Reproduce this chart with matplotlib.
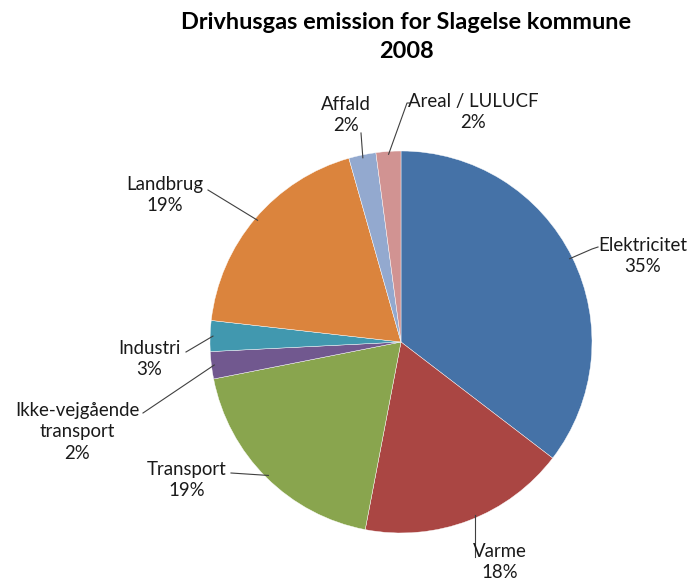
import numpy as np
import matplotlib
matplotlib.use("Agg")
import matplotlib.pyplot as plt

# ---- data ----
categories = ["Elektricitet", "Varme", "Transport", "Ikke-vejgående\ntransport",
              "Industri", "Landbrug", "Affald", "Areal / LULUCF"]
values = [35.4, 17.6, 18.9, 2.3, 2.6, 18.8, 2.3, 2.1]
colors = ["#4572A7", "#AA4643", "#89A54E", "#71588F",
          "#4198AF", "#DB843D", "#93A9CF", "#D19392"]
title = "Drivhusgas emission for Slagelse kommune\n2008"

# ---- layout (pixels in a 692x585 canvas) ----
W, H = 692, 585
cx, cy, R = 401, 342, 191
# label text centre (px) and leader-line start point (px) near the text
label_pos = [(643, 256), (500, 562), (187, 480), (77, 432),
             (149, 359), (165, 195), (346, 115), (473, 112)]
leader_start = [(598, 247), (475, 557), (231, 473), (143, 413),
                (186, 352), (208, 190), (361, 133), (410, 103)]
leader_elbow = [(592, 249), None, None, None, None, None, None, (407, 103)]

plt.rcParams['font.family'] = ['Lato', 'DejaVu Sans']
fig = plt.figure(figsize=(W / 100, H / 100), dpi=100)
ax = fig.add_axes([(cx - R) / W, (H - cy - R) / H, 2 * R / W, 2 * R / H])

wedges, _ = ax.pie(values, colors=colors, startangle=90, counterclock=False,
                   radius=1, wedgeprops=dict(linewidth=0.3, edgecolor='white'))
ax.set_xlim(-1, 1)
ax.set_ylim(-1, 1)
ax.set_aspect('equal')
ax.axis('off')

def px2d(p):
    return ((p[0] - cx) / R, (cy - p[1]) / R)

total = sum(values)
cum = 0.0
for i, (cat, v) in enumerate(zip(categories, values)):
    mid = (cum + v / 2) / total * 360.0
    cum += v
    ang = np.deg2rad(90 - mid)
    ex, ey = 0.985 * np.cos(ang), 0.985 * np.sin(ang)
    if i == 1:
        sx, sy = px2d(leader_start[i])
        ex = sx
        ey = -np.sqrt(max(0.0, 1 - sx ** 2)) * 0.985
    pts = [px2d(leader_start[i])]
    if leader_elbow[i] is not None:
        pts.append(px2d(leader_elbow[i]))
    pts.append((ex, ey))
    xs, ys = zip(*pts)
    ax.plot(xs, ys, color='#404040', lw=0.8, clip_on=False)
    pct = int(round(v / total * 100))
    tx, ty = px2d(label_pos[i])
    ax.text(tx, ty, f"{cat}\n{pct}%", ha='center', va='center', fontsize=13.4,
            linespacing=1.35, color='#1a1a1a', clip_on=False)

fig.text(406 / W, 1 - 37 / H, title, ha='center', va='center', fontsize=16.9,
         fontweight='bold', linespacing=1.5, color='black')

fig.savefig("out.png", dpi=100, facecolor='white')
